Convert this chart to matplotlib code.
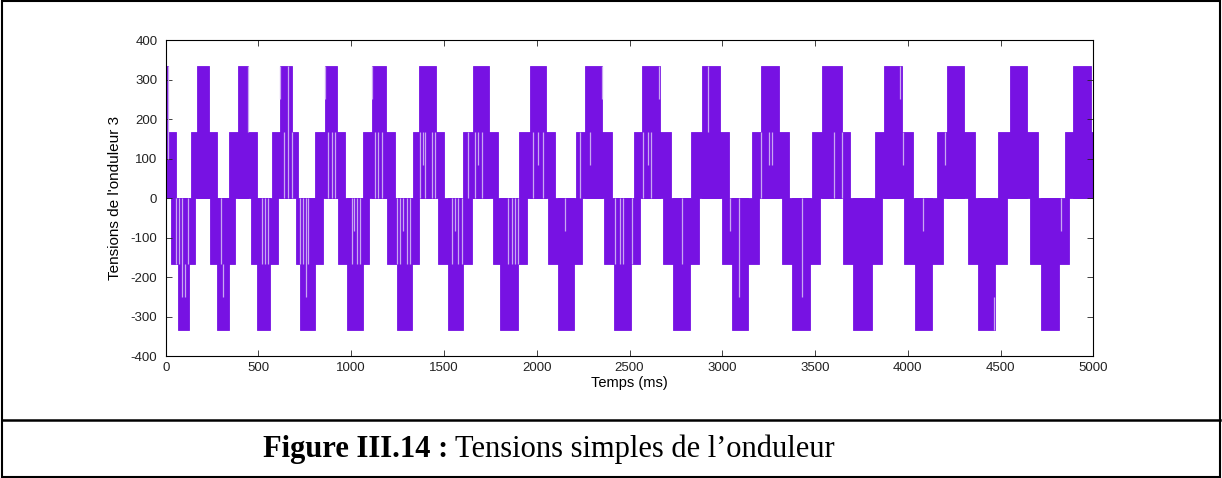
import matplotlib
matplotlib.use("Agg")
import matplotlib.pyplot as plt
from matplotlib.patches import Rectangle
from matplotlib.lines import Line2D

plt.rcParams["axes.unicode_minus"] = False

# ---- data (times in ms, voltages in V) ----
V1 = 166.7          # first level  (Vdc/3)
V2 = 333.3          # second level (2Vdc/3)

# positive lobes: band (0..V1) start/end, peak (0..V2) start/end
pos_band_start = [0, 135, 343, 571, 805, 1065, 1335, 1605, 1905, 2210, 2525, 2830, 3159, 3482, 3824, 4156, 4488, 4848]
pos_band_end   = [55, 275, 490, 715, 967, 1238, 1500, 1793, 2099, 2408, 2722, 3038, 3357, 3689, 4027, 4363, 4701, 5000]
pos_peak_start = [0, 167, 388, 614, 860, 1110, 1367, 1655, 1964, 2260, 2569, 2889, 3209, 3540, 3872, 4210, 4551, 4893]
pos_peak_end   = [10, 235, 445, 683, 922, 1185, 1455, 1745, 2048, 2354, 2665, 2988, 3306, 3644, 3971, 4303, 4641, 4988]

# negative lobes
neg_band_start = [30, 239, 458, 700, 930, 1191, 1470, 1763, 2063, 2365, 2683, 2997, 3321, 3653, 3982, 4323, 4659]
neg_band_end   = [160, 374, 607, 850, 1098, 1365, 1652, 1946, 2246, 2557, 2875, 3198, 3527, 3860, 4189, 4533, 4869]
neg_peak_start = [65, 275, 494, 723, 976, 1245, 1524, 1802, 2113, 2419, 2736, 3051, 3378, 3707, 4039, 4377, 4719]
neg_peak_end   = [127, 343, 562, 803, 1062, 1328, 1601, 1901, 2201, 2508, 2826, 3141, 3473, 3806, 4129, 4471, 4816]

# light PWM gap lines: time, from, to
gap_t  = [10, 55, 72, 90, 104, 122, 185, 197, 298, 311, 373, 418, 445, 518, 536, 553,
          616, 639, 661, 683, 724, 742, 754, 769, 859, 877, 895, 913, 1002, 1017, 1030, 1048,
          1110, 1128, 1146, 1164, 1249, 1263, 1281, 1299, 1317, 1371, 1389, 1398, 1434, 1452,
          1541, 1559, 1577, 1595, 1631, 1667, 1685, 1703, 1847, 1865, 1883, 1898, 1982, 2009, 2036,
          2152, 2233, 2287, 2350, 2422, 2449, 2467, 2512, 2571, 2602, 2615, 2661, 2781, 2925, 3042,
          3091, 3209, 3254, 3267, 3428, 3603, 3645, 3958, 3976, 4081, 4201, 4467, 4827]
gap_y0 = [333, 0, 0, 0, -167, 0, 0, 0, 0, -167, 0, 0, 333, 0, 0, 0,
          333, 167, 333, 167, 0, 0, 0, 0, 333, 167, 167, 167, 0, 0, 0, 0,
          333, 167, 167, 167, 0, 0, 0, 0, 0, 167, 167, 167, 167, 167,
          0, 0, 0, 0, 167, 167, 167, 167, 0, 0, 0, 0, 167, 167, 167,
          0, 167, 167, 333, 0, 0, 0, 0, 167, 167, 167, 333, 0, 333, 0,
          0, 167, 167, 167, 0, 167, 167, 333, 167, 0, 167, -250, 0]
gap_y1 = [100, -167, -167, -250, -250, -167, 0, 0, -167, -250, 0, 0, 167, -167, -167, -167,
          250, 0, 0, 0, -167, -167, -250, -167, 250, 0, 0, 0, -167, -83, -167, -167,
          250, 0, 0, 0, -167, -167, -83, -167, -167, 0, 83, 0, 0, 0,
          -167, -83, -167, -167, 0, 0, 83, 0, -167, -167, -167, -167, 0, 83, 0,
          -83, 0, 83, 250, -167, -167, -167, -167, 0, 83, 0, 250, -167, 167, -83,
          -250, 0, 83, 83, -250, 0, 0, 250, 83, -83, 83, -333, -83]

x_ticks = [0, 500, 1000, 1500, 2000, 2500, 3000, 3500, 4000, 4500, 5000]
y_ticks = [-400, -300, -200, -100, 0, 100, 200, 300, 400]

PURPLE = "#7712e3"
GAP = "#c9a6f2"

fig = plt.figure(figsize=(12.22, 4.78), dpi=100)
ax = fig.add_axes([0.1356, 0.2552, 0.7591, 0.6611])

def bars(starts, ends, bottom, top):
    w = [e - s for s, e in zip(starts, ends)]
    ax.bar(starts, [top - bottom] * len(starts), width=w, bottom=bottom,
           align="edge", color=PURPLE, edgecolor=PURPLE, linewidth=0.6)

bars(pos_band_start, pos_band_end, 0, V1)
bars(pos_peak_start, pos_peak_end, 0, V2)
bars(neg_band_start, neg_band_end, -V1, 0)
bars(neg_peak_start, neg_peak_end, -V2, 0)
ax.vlines(gap_t, gap_y0, gap_y1, color=GAP, linewidth=0.9)

ax.set_xlim(0, 5000)
ax.set_ylim(-400, 400)
ax.set_xticks(x_ticks)
ax.set_yticks(y_ticks)
ax.tick_params(direction="in", top=True, right=True, length=4, width=0.6,
               labelsize=9.5, colors="#222222")
ax.tick_params(axis="y", pad=6)
ax.tick_params(axis="x", pad=4)
for lab in ax.get_xticklabels() + ax.get_yticklabels():
    lab.set_family("Liberation Sans")
for s in ax.spines.values():
    s.set_linewidth(0.8)
ax.set_xlabel("Temps (ms)", fontsize=10.5, family="Liberation Sans", labelpad=2)
ax.set_ylabel("Tensions de l'onduleur 3", fontsize=11, family="Liberation Sans", labelpad=6)

# outer frame and caption row
fig.add_artist(Rectangle((0.002, 0.003), 0.996, 0.994, transform=fig.transFigure,
                         fill=False, edgecolor="black", linewidth=1.5))
fig.add_artist(Line2D([0.002, 0.998], [1 - 420 / 478] * 2, transform=fig.transFigure,
                      color="black", linewidth=1.8))
fig.text(448 / 1222, 1 - 449 / 478, "Figure III.14 :", ha="right", va="center",
         family="Liberation Serif", weight="bold", fontsize=22)
fig.text(455 / 1222, 1 - 449 / 478, "Tensions simples de l\u2019onduleur", ha="left", va="center",
         family="Liberation Serif", fontsize=22)

fig.savefig("out.png", dpi=100)
